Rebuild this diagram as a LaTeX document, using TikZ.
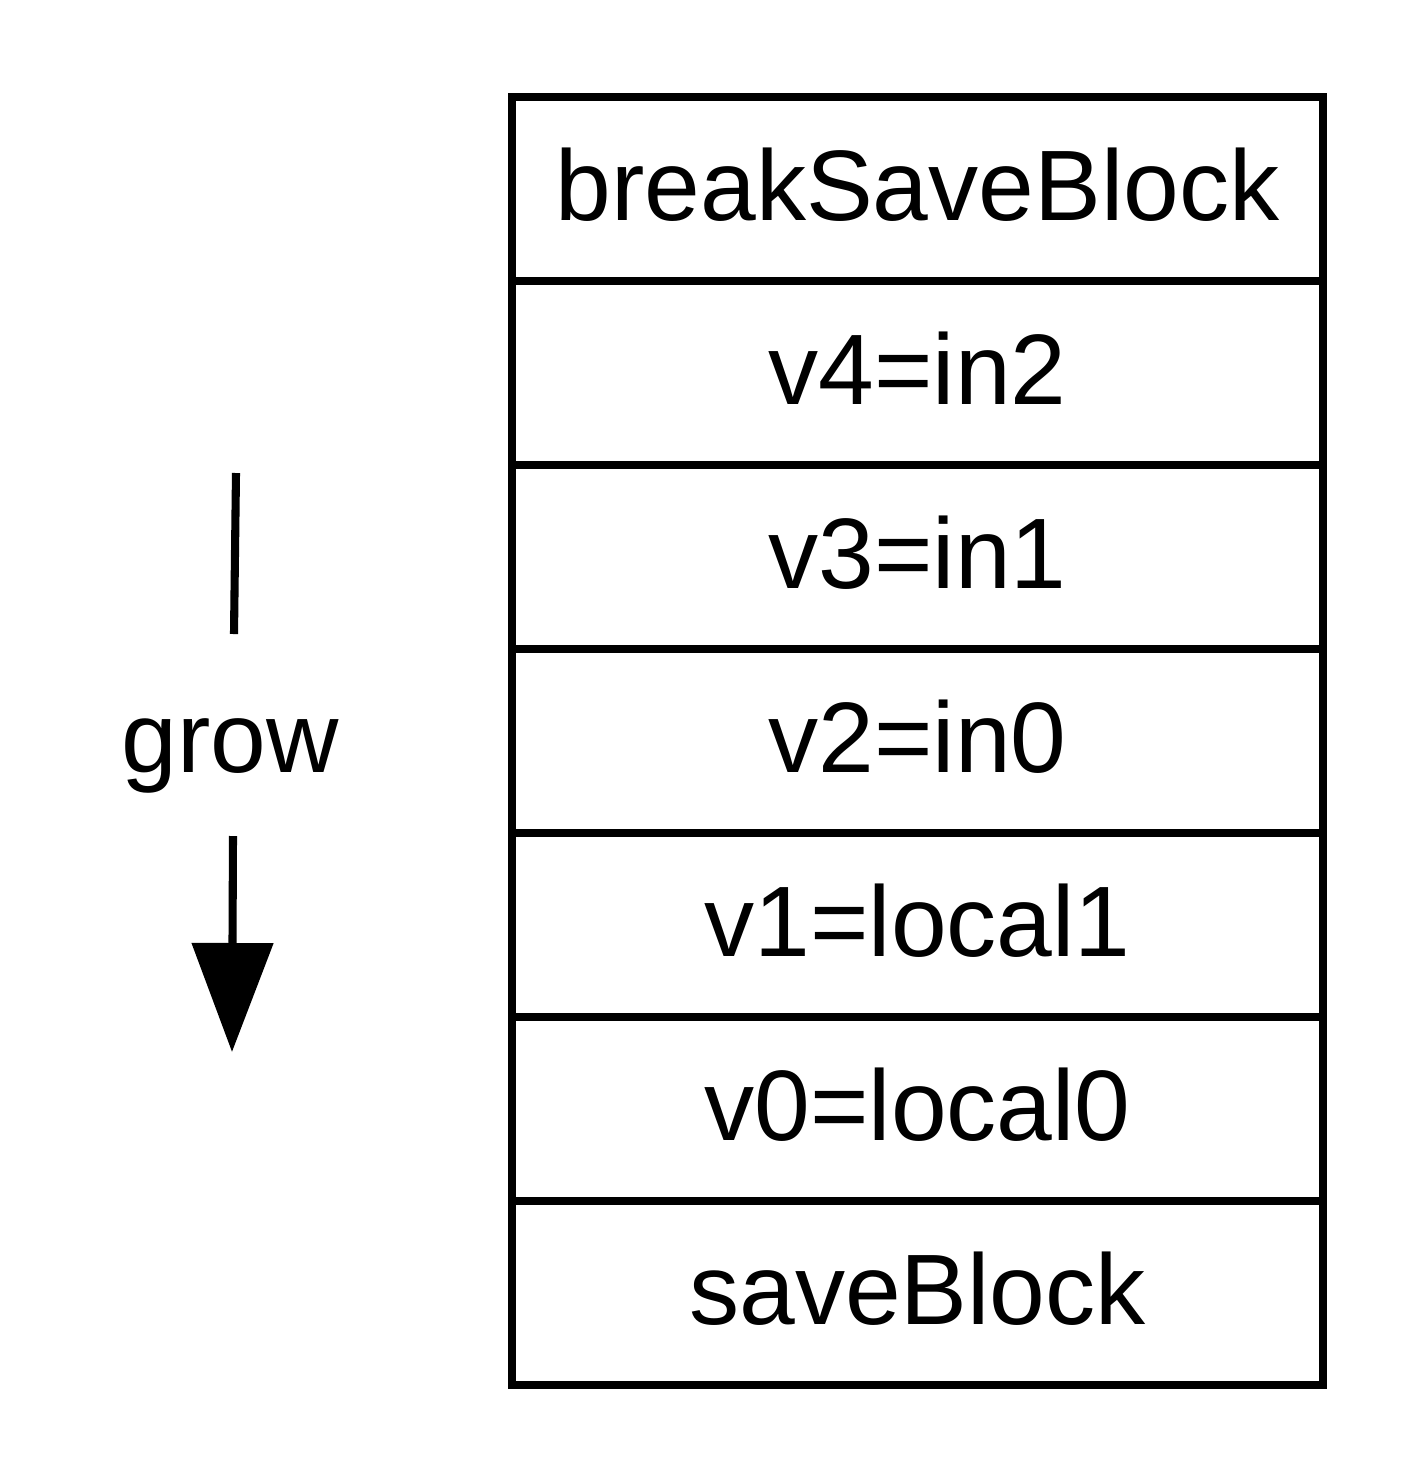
\documentclass[tikz,border=0pt]{standalone}
\usepackage{fontspec}
\setmainfont{Liberation Sans}
\usepackage{tikz}
\usetikzlibrary{positioning,arrows.meta}
\tikzset{>=latex}
\tikzset{
  cell/.style={draw, line width=2.3pt, outer sep=0pt, inner sep=0pt,
    minimum width=8.11cm, minimum height=1.84cm,
    text height=0.63cm, text depth=0pt,
    font=\fontsize{28.5}{34}\selectfont},
  growlabel/.style={font=\fontsize{28.5}{34}\selectfont, inner sep=0pt}
}

\begin{document}
\begin{tikzpicture}

		\useasboundingbox (0,0) rectangle (14.16,-14.74);

		% The stack of slots, top to bottom
		\node [cell] (row0) at (9.175,-1.89) {breakSaveBlock};
		\foreach \lab [count=\i, remember=\i as \j (initially 0)] in {
		  v4=in2,
		  v3=in1,
		  v2=in0,
		  v1=local1,
		  v0=local0,
		  saveBlock} {
		  \node [cell, below=0pt of row\j] (row\i) {\lab};
		}

		% The direction in which the stack grows
		\node [growlabel, anchor=base] (grow) at (2.30,-7.72) {grow};
		\coordinate (growtop) at (2.36,-4.73);
		\coordinate (growmid) at (2.34,-6.34);
		\coordinate (growlow) at (2.33,-8.36);
		\coordinate (growtip) at (2.32,-10.52);
		\draw [line width=2.3pt] (growtop) -- (growmid);
		\draw [line width=2.3pt, -{Triangle[width=0.8cm,length=1.09cm]}] (growlow) -- (growtip);

	\end{tikzpicture}
\end{document}
